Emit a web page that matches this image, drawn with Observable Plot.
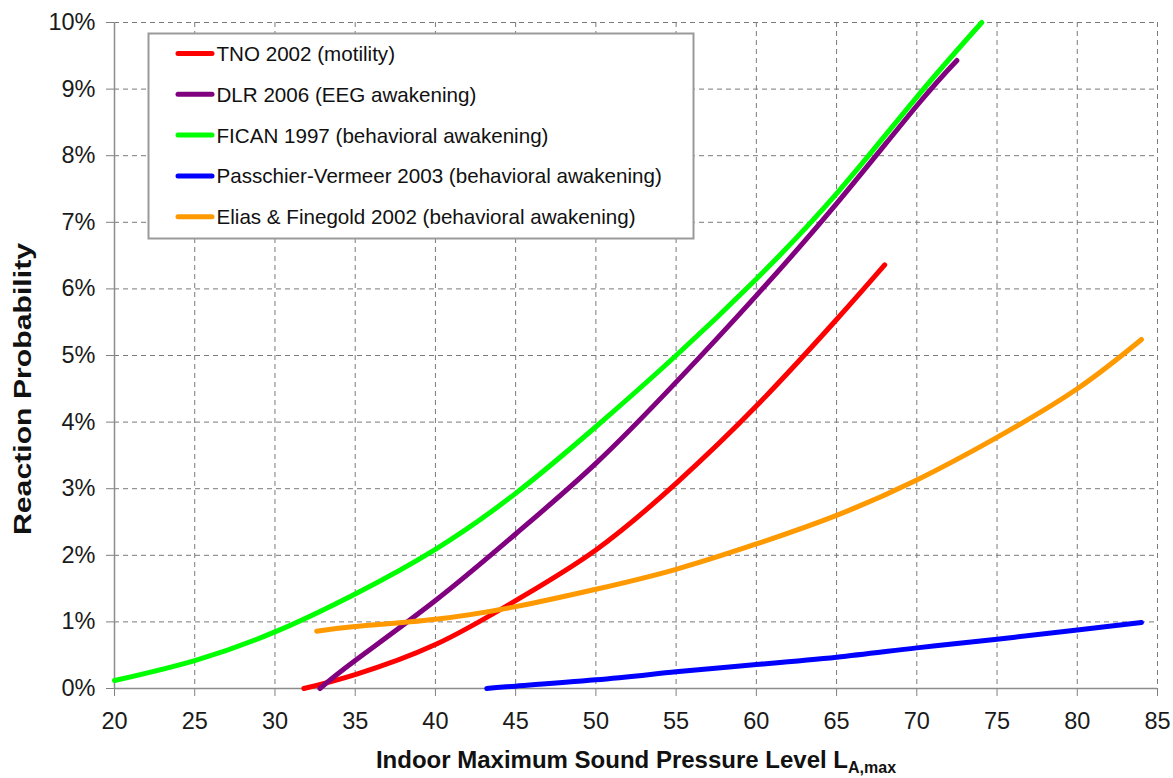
<!DOCTYPE html>
<html>
<head>
<meta charset="utf-8">
<script src="https://cdn.jsdelivr.net/npm/d3@7"></script>
<script src="https://cdn.jsdelivr.net/npm/@observablehq/plot@0.6"></script>
<style>
  html, body { margin: 0; padding: 0; background: #fff; }
  #chart { width: 1173px; height: 778px; }
</style>
</head>
<body>
<div id="chart"></div>
<script>
// ---- Data ----
const seriesNames = [
  "TNO 2002 (motility)",
  "DLR 2006 (EEG awakening)",
  "FICAN 1997 (behavioral awakening)",
  "Passchier-Vermeer 2003 (behavioral awakening)",
  "Elias & Finegold 2002 (behavioral awakening)"
];
const seriesColors = ["#ff0000", "#800080", "#00ff00", "#0000ff", "#ff9900"];

const tnoX = [31.8, 35, 40, 45, 50, 55, 60, 65, 68];
const tnoY = [0, 0.21, 0.66, 1.32, 2.08, 3.08, 4.24, 5.54, 6.36];

const dlrX = [32.8, 35, 40, 45, 50, 55, 60, 65, 70, 72.5];
const dlrY = [0, 0.42, 1.32, 2.32, 3.38, 4.6, 5.9, 7.28, 8.75, 9.43];

const ficanX = [20, 25, 30, 35, 40, 45, 50, 55, 60, 65, 70, 74.05];
const ficanY = [0.12, 0.42, 0.85, 1.42, 2.09, 2.93, 3.93, 5.0, 6.15, 7.43, 8.88, 10.0];

const pvX = [43.2, 45, 50, 55, 60, 65, 70, 75, 80, 84];
const pvY = [0, 0.035, 0.13, 0.25, 0.36, 0.47, 0.61, 0.74, 0.88, 0.99];

const efX = [32.6, 35, 40, 45, 50, 55, 60, 65, 70, 75, 80, 84];
const efY = [0.86, 0.93, 1.04, 1.23, 1.49, 1.79, 2.17, 2.6, 3.13, 3.77, 4.5, 5.24];

const xTicks = [20, 25, 30, 35, 40, 45, 50, 55, 60, 65, 70, 75, 80, 85];
const yTicks = [0, 1, 2, 3, 4, 5, 6, 7, 8, 9, 10];
const yTickLabels = ["0%", "1%", "2%", "3%", "4%", "5%", "6%", "7%", "8%", "9%", "10%"];

const xLabelMain = "Indoor Maximum Sound Pressure Level L";
const xLabelSub = "A,max";
const yLabel = "Reaction Probability";

// ---- Build table ----
const allX = [tnoX, dlrX, ficanX, pvX, efX];
const allY = [tnoY, dlrY, ficanY, pvY, efY];
const rows = [];
seriesNames.forEach((name, i) => {
  allX[i].forEach((x, j) => rows.push({series: name, x, y: allY[i][j]}));
});

const FONT = "'Liberation Sans', Arial, Helvetica, sans-serif";

const chart = Plot.plot({
  width: 1173,
  height: 778,
  marginLeft: 114,
  marginRight: 16,
  marginTop: 22,
  marginBottom: 90,
  style: {fontFamily: FONT, fontSize: "23.5px", color: "#111", background: "#fff", overflow: "visible"},
  x: {domain: [20, 85]},
  y: {domain: [0, 10]},
  color: {domain: seriesNames, range: seriesColors},
  marks: [
    Plot.gridX(xTicks, {stroke: "#7a7a7a", strokeOpacity: 1, strokeDasharray: "5,4", strokeWidth: 1}),
    Plot.gridY(yTicks, {stroke: "#7a7a7a", strokeOpacity: 1, strokeDasharray: "5,4", strokeWidth: 1}),
    Plot.axisX(xTicks, {tickSize: 8, tickPadding: 16, stroke: "#808080", color: "#1a1a1a", label: null, fontSize: 23.5}),
    Plot.axisY(yTicks, {tickSize: 8, tickPadding: 11, stroke: "#808080", color: "#1a1a1a", label: null, fontSize: 23.5,
      tickFormat: (d) => yTickLabels[yTicks.indexOf(d)]}),
    Plot.ruleX([20], {stroke: "#8c8c8c", strokeWidth: 1.5}),
    Plot.ruleY([0], {stroke: "#8c8c8c", strokeWidth: 1.5}),
    Plot.line(rows, {x: "x", y: "y", z: "series", stroke: "series", strokeWidth: 5,
      strokeLinecap: "round", strokeLinejoin: "round", curve: "natural"})
  ]
});

document.getElementById("chart").appendChild(chart);

// ---- Axis titles and legend (real SVG text) ----
const svg = d3.select(chart);

const xt = svg.append("text")
  .attr("x", 636).attr("y", 768)
  .attr("text-anchor", "middle")
  .attr("font-family", FONT).attr("font-size", 24).attr("font-weight", "bold").attr("fill", "#111");
xt.append("tspan").text(xLabelMain);
xt.append("tspan").attr("dy", 5).attr("font-size", 16).text(xLabelSub);

svg.append("text")
  .attr("transform", "translate(31,389) rotate(-90)")
  .attr("text-anchor", "middle")
  .attr("textLength", 292).attr("lengthAdjust", "spacingAndGlyphs")
  .attr("font-family", FONT).attr("font-size", 24).attr("font-weight", "bold").attr("fill", "#111")
  .text(yLabel);

const lg = svg.append("g");
lg.append("rect")
  .attr("x", 148.5).attr("y", 33.5).attr("width", 545).attr("height", 205)
  .attr("fill", "#fff").attr("stroke", "#9a9a9a").attr("stroke-width", 2);
seriesNames.forEach((name, i) => {
  const cy = 53.5 + i * 40.8;
  lg.append("line")
    .attr("x1", 178).attr("x2", 212).attr("y1", cy).attr("y2", cy)
    .attr("stroke", seriesColors[i]).attr("stroke-width", 5).attr("stroke-linecap", "round");
  lg.append("text")
    .attr("x", 216.5).attr("y", cy).attr("dy", "0.36em")
    .attr("text-anchor", "start")
    .attr("font-family", FONT).attr("font-size", 20.6).attr("fill", "#111")
    .text(name);
});
</script>
</body>
</html>
